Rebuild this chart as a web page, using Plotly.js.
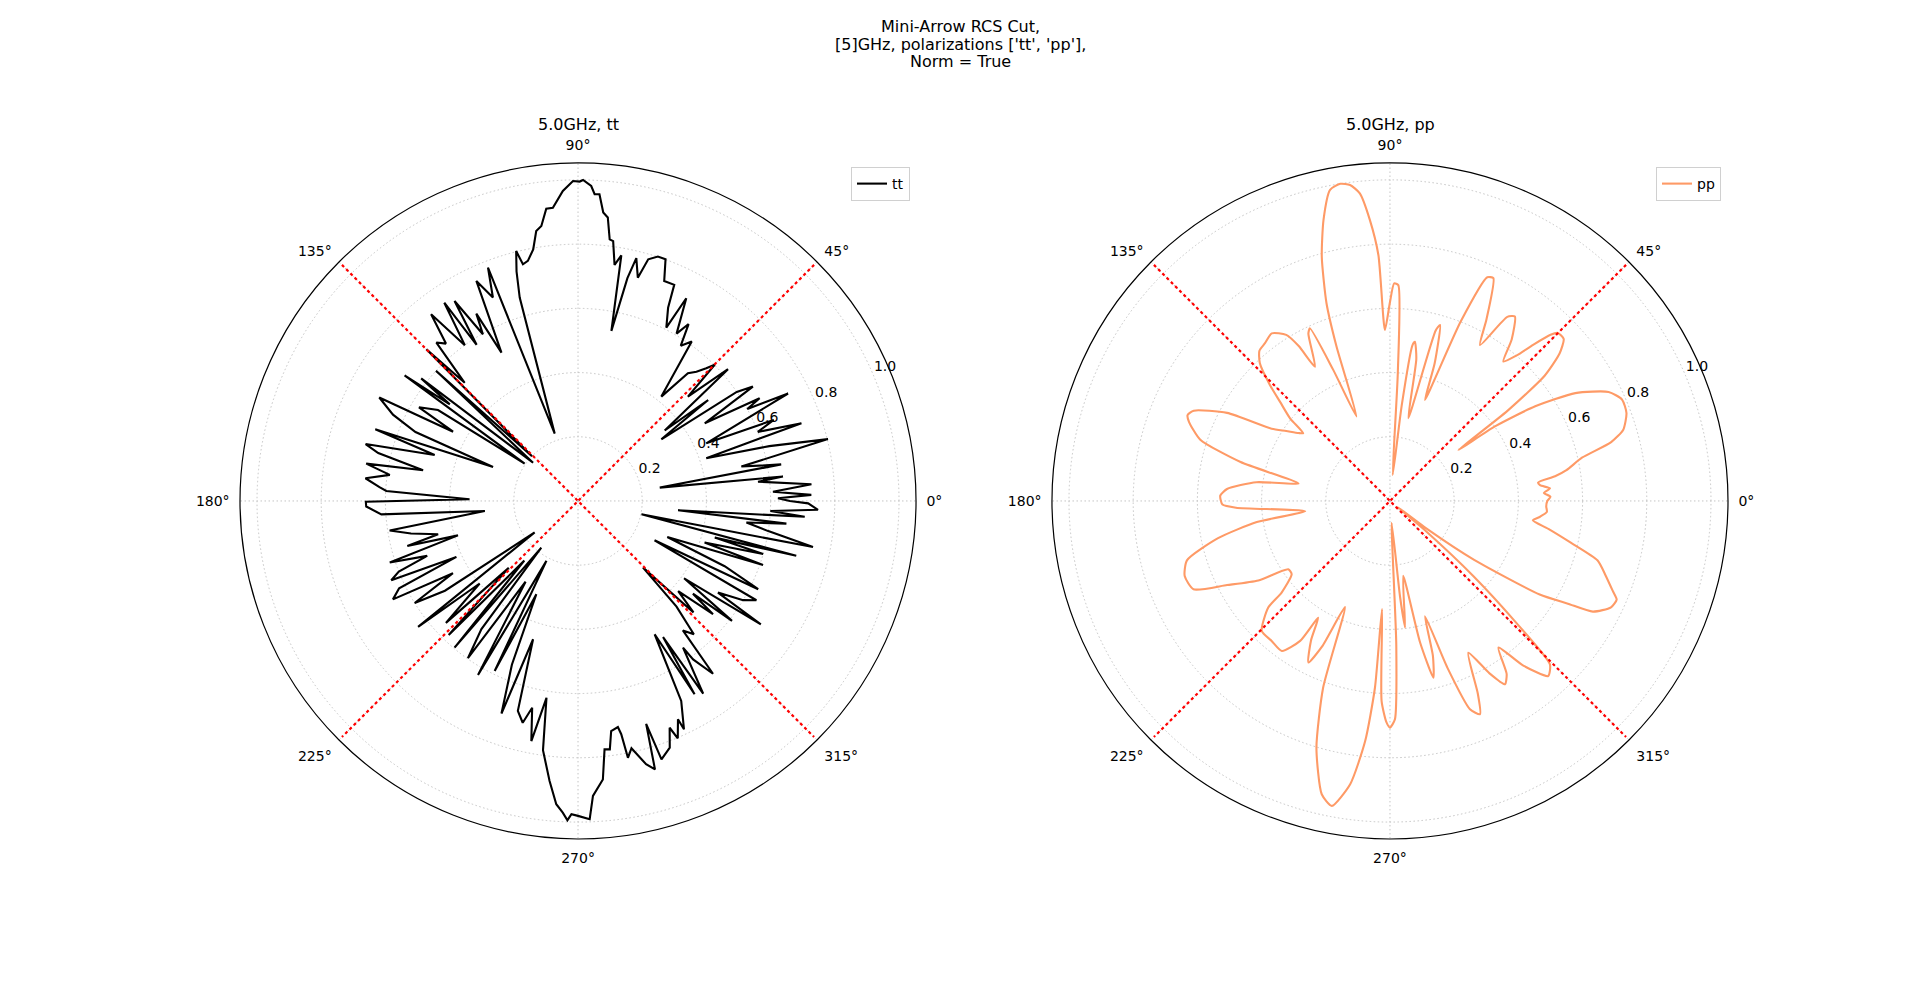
<!DOCTYPE html>
<html>
<head>
<meta charset="utf-8">
<script src="https://cdn.plot.ly/plotly-3.0.1.min.js"></script>
<style>
  body { margin: 0; background: white; }
  #chart { width: 1920px; height: 993px; }
</style>
</head>
<body>
<div id="chart"></div>
<script>
// normalised RCS, 5 GHz, tt polarisation (angle in degrees, value)
var ttTheta = [0, 0.8, 1.5, 2.7, 4.1, 6.1, 6.8, 9.3, 10.2, 11.9, 13.9, 16, 18.4, 19.2, 21, 22.5, 24.2, 27.1, 28.5, 29.5,
  31.5, 33.2, 34.5, 36.5, 37.8, 39.1, 41.3, 43.5, 44.9, 46, 47.5, 49.3, 51.4, 54.5, 56.5, 58, 59.5, 61.9, 63, 65,
  66, 68.6, 70.1, 71.9, 73.8, 75, 76.5, 77.5, 78.9, 80, 81.2, 82.3, 83.1, 84, 85, 86, 86.9, 87.6, 89.1, 89.7,
  90.9, 92.8, 94.9, 96.2, 97.6, 98.8, 100.1, 101.8, 103.1, 103.9, 105, 106, 109.1, 111.1, 112.7, 114.8, 117.3, 118.5, 119.7, 121.7,
  123, 124, 126, 128.2, 130, 131.8, 133.8, 135, 135.8, 137.5, 139.6, 142, 143, 144.1, 145, 147, 149.5, 151, 152.5, 155,
  157, 158.2, 160.5, 162.2, 165, 166.5, 168.8, 170, 172.1, 173.9, 176, 177, 179.1, 180.2, 181.5, 183.9, 186.1, 188.9, 191, 193.4,
  194.8, 196, 198.1, 200, 201.5, 203, 204.7, 206, 208, 210, 212, 214, 216, 218.2, 220, 222.7, 224, 226, 228, 229.9,
  231.8, 233, 235, 237, 240.1, 242.2, 243.9, 245.9, 248, 250.2, 252, 254, 256, 257.5, 259, 260.9, 262, 264.2, 265.9, 267.2,
  268.1, 268.8, 270, 272.1, 272.9, 275.1, 276.1, 277.3, 278.2, 280, 280.5, 281, 282.2, 284.5, 286, 287, 287.9, 290.4, 292, 292.8,
  294.6, 294.9, 297.3, 299.9, 301.1, 302, 303, 305.6, 306, 308, 309, 311, 313, 314.3, 316, 318, 320, 321.1, 322.1, 323.9,
  326, 326.8, 329, 330.9, 332.8, 333.9, 336, 338, 340.9, 341.8, 344, 345, 345.9, 348.1, 348.9, 351, 352.7, 353.8, 354.7, 356,
  357, 357.9, 359.4, 360];
var ttR = [0.66, 0.623, 0.727, 0.608, 0.729, 0.564, 0.643, 0.258, 0.643, 0.52, 0.802, 0.62, 0.421, 0.737, 0.6, 0.66, 0.438, 0.735, 0.6, 0.65,
  0.463, 0.651, 0.6, 0.323, 0.513, 0.348, 0.622, 0.472, 0.601, 0.575, 0.546, 0.525, 0.416, 0.61, 0.58, 0.65, 0.605, 0.716, 0.606, 0.664,
  0.737, 0.736, 0.801, 0.801, 0.784, 0.72, 0.778, 0.711, 0.54, 0.777, 0.744, 0.817, 0.821, 0.888, 0.902, 0.958, 0.957, 0.982, 1.0, 0.995,
  0.997, 0.967, 0.917, 0.916, 0.864, 0.851, 0.796, 0.764, 0.757, 0.802, 0.74, 0.659, 0.222, 0.779, 0.687, 0.755, 0.52, 0.664, 0.598, 0.732,
  0.58, 0.745, 0.6, 0.74, 0.64, 0.662, 0.51, 0.668, 0.2, 0.6, 0.184, 0.62, 0.5, 0.667, 0.203, 0.52, 0.575, 0.445, 0.698, 0.636,
  0.55, 0.285, 0.67, 0.469, 0.685, 0.64, 0.492, 0.67, 0.592, 0.666, 0.62, 0.598, 0.338, 0.661, 0.66, 0.614, 0.292, 0.594, 0.53, 0.448,
  0.55, 0.389, 0.617, 0.5, 0.6, 0.632, 0.417, 0.62, 0.653, 0.45, 0.6, 0.5, 0.167, 0.634, 0.4, 0.56, 0.3, 0.58, 0.25, 0.597,
  0.185, 0.5, 0.598, 0.3, 0.625, 0.211, 0.59, 0.318, 0.55, 0.704, 0.453, 0.68, 0.712, 0.66, 0.762, 0.621, 0.784, 0.877, 0.947, 0.972,
  0.995, 0.976, 0.981, 0.992, 0.92, 0.871, 0.778, 0.78, 0.724, 0.715, 0.739, 0.815, 0.788, 0.847, 0.87, 0.726, 0.846, 0.82, 0.762, 0.802,
  0.748, 0.784, 0.701, 0.479, 0.703, 0.5, 0.716, 0.562, 0.61, 0.683, 0.519, 0.55, 0.45, 0.29, 0.5, 0.42, 0.549, 0.46, 0.608, 0.409,
  0.687, 0.521, 0.6, 0.636, 0.268, 0.625, 0.5, 0.30, 0.61, 0.415, 0.6, 0.441, 0.701, 0.202, 0.746, 0.6, 0.529, 0.653, 0.313, 0.708,
  0.6, 0.748, 0.717, 0.66];

// normalised RCS, 5 GHz, pp polarisation
var ppTheta = [0, 1.5, 3, 4.5, 6, 7.1, 8.5, 9.9, 12.7, 14.9, 17, 20.4, 23.6, 26.5, 30.2, 33.1, 35.4, 36.7, 37.5, 39,
  41, 43, 45, 46, 47.5, 49, 50.9, 53, 55.9, 57.5, 60, 62, 65.1, 66.5, 68.5, 70.9, 72, 74.1, 75, 77.5,
  79.5, 81.1, 81.8, 83, 84, 86.5, 87.8, 88.9, 90, 91.7, 92.7, 94.1, 95.6, 97.2, 98.9, 100.9, 103.3, 105.6, 107.8, 109.1,
  111.6, 113.4, 114.9, 116, 119.2, 120.5, 122, 125.2, 128.4, 131, 133.4, 136, 138, 140.4, 142, 143.4, 146, 148.6, 151.6, 155.3,
  157, 158.5, 162.1, 165.4, 169.2, 172, 175.8, 178.2, 181.2, 182.5, 186.9, 189, 192.2, 196.3, 200.1, 204.2, 207.3, 211.1, 213.9, 216.7,
  220.2, 221.2, 225.4, 229.8, 234.2, 237.3, 238.4, 240.5, 243.2, 245, 247, 250.3, 253.4, 256.9, 259.2, 262, 264.1, 265.4, 265.8, 267.6,
  269.1, 270, 271.3, 272.5, 274.4, 276, 276.8, 280, 282, 283.8, 285.5, 286.9, 289, 291, 292.9, 294.5, 297.3, 300, 302.1, 304,
  306.5, 309, 312.1, 314.4, 316, 318, 320, 321.5, 323, 325, 328, 330, 331.4, 334.3, 336.5, 337.9, 341, 344, 347, 350,
  352.3, 354, 356, 358, 360];
var ppR = [0.49, 0.5, 0.48, 0.5, 0.47, 0.465, 0.52, 0.558, 0.613, 0.713, 0.76, 0.786, 0.789, 0.761, 0.668, 0.54, 0.401, 0.266, 0.46, 0.62,
  0.7, 0.74, 0.74, 0.72, 0.66, 0.6, 0.56, 0.63, 0.694, 0.68, 0.561, 0.64, 0.765, 0.76, 0.6, 0.333, 0.45, 0.57, 0.55, 0.264,
  0.45, 0.502, 0.49, 0.3, 0.081, 0.4, 0.673, 0.678, 0.62, 0.533, 0.767, 0.878, 0.963, 0.992, 1.0, 0.987, 0.9, 0.79, 0.647, 0.509,
  0.283, 0.445, 0.593, 0.58, 0.479, 0.56, 0.61, 0.639, 0.627, 0.62, 0.59, 0.52, 0.46, 0.404, 0.343, 0.355, 0.39, 0.432, 0.577, 0.673,
  0.685, 0.673, 0.621, 0.481, 0.29, 0.42, 0.509, 0.529, 0.522, 0.48, 0.266, 0.42, 0.548, 0.659, 0.681, 0.671, 0.571, 0.479, 0.382, 0.382,
  0.442, 0.504, 0.569, 0.571, 0.576, 0.518, 0.427, 0.5, 0.564, 0.5, 0.359, 0.618, 0.802, 0.938, 0.967, 0.891, 0.752, 0.583, 0.338, 0.624,
  0.69, 0.706, 0.68, 0.45, 0.068, 0.3, 0.397, 0.237, 0.45, 0.567, 0.5, 0.375, 0.55, 0.695, 0.721, 0.66, 0.532, 0.62, 0.674, 0.65,
  0.568, 0.66, 0.735, 0.712, 0.55, 0.35, 0.15, 0.03, 0.15, 0.32, 0.55, 0.64, 0.72, 0.764, 0.77, 0.75, 0.71, 0.673, 0.578, 0.501,
  0.449, 0.47, 0.49, 0.487, 0.49];

// red dotted guide lines through the centre
var diagR = [1.04, 0, 1.04];
var diagThetaA = [45, 45, 225];
var diagThetaB = [135, 135, 315];

var radialTicks = [0.2, 0.4, 0.6, 0.8, 1.0];
var radialLabels = ['0.2', '0.4', '0.6', '0.8', '1.0'];
var angleTicks = [0, 45, 90, 135, 180, 225, 270, 315];
var angleLabels = ['0°', '45°', '90°', '135°', '180°', '225°', '270°', '315°'];

var fontFamily = 'DejaVu Sans, sans-serif';

function guide(theta, sub) {
    return {
        type: 'scatterpolar',
        r: diagR,
        theta: theta,
        subplot: sub,
        mode: 'lines',
        line: {color: 'red', width: 2.2, dash: 'dot'},
        showlegend: false,
        hoverinfo: 'skip'
    };
}

// radial tick labels sit just past each ring, centred on the label line (like matplotlib)
function rlabels(sub) {
    return {
        type: 'scatterpolar',
        r: radialTicks.map(function (v) { return v + 0.043; }),
        theta: radialTicks.map(function () { return 23.5; }),
        text: radialLabels,
        subplot: sub,
        mode: 'text',
        textposition: 'middle center',
        textfont: {size: 14, color: 'black', family: fontFamily},
        cliponaxis: false,
        showlegend: false,
        hoverinfo: 'skip'
    };
}

var data = [
    rlabels('polar'),
    {
        type: 'scatterpolar',
        r: ttR,
        theta: ttTheta,
        subplot: 'polar',
        mode: 'lines',
        name: 'tt',
        line: {color: 'black', width: 2.1},
        legend: 'legend'
    },
    guide(diagThetaA, 'polar'),
    guide(diagThetaB, 'polar'),
    rlabels('polar2'),
    {
        type: 'scatterpolar',
        r: ppR,
        theta: ppTheta,
        subplot: 'polar2',
        mode: 'lines',
        name: 'pp',
        line: {color: '#fe9a66', width: 2.1, shape: 'spline', smoothing: 0.6},
        legend: 'legend2'
    },
    guide(diagThetaA, 'polar2'),
    guide(diagThetaB, 'polar2')
];

function polarAxes(xdom) {
    return {
        domain: {x: xdom, y: [0.1551, 0.8359]},
        bgcolor: 'white',
        radialaxis: {
            range: [0, 1.053],
            tickvals: radialTicks,
            angle: 22.5,
            showticklabels: false,
            showline: false,
            ticks: '',
            gridcolor: '#c4c4c4',
            griddash: '1.5px,2.5px',
            gridwidth: 1
        },
        angularaxis: {
            tickvals: angleTicks,
            ticktext: angleLabels,
            rotation: 0,
            direction: 'counterclockwise',
            showline: true,
            linecolor: 'black',
            linewidth: 1.2,
            gridcolor: '#c4c4c4',
            griddash: '1.5px,2.5px',
            gridwidth: 1,
            ticks: 'outside',
            ticklen: 7,
            tickcolor: 'rgba(0,0,0,0)',
            tickfont: {size: 14, color: 'black', family: fontFamily}
        }
    };
}

function legendBox(xr) {
    return {
        x: xr,
        y: 1 - 167 / 993,
        xanchor: 'right',
        yanchor: 'top',
        bgcolor: 'rgba(255,255,255,0.8)',
        bordercolor: '#d0d0d0',
        borderwidth: 1,
        font: {size: 14, color: 'black', family: fontFamily}
    };
}

function label(text, x, y) {
    return {
        text: text,
        xref: 'paper', yref: 'paper',
        x: x / 1920, y: 1 - y / 993,
        xanchor: 'center', yanchor: 'middle',
        showarrow: false,
        font: {size: 16, color: 'black', family: fontFamily}
    };
}

var layout = {
    width: 1920,
    height: 993,
    margin: {l: 0, r: 0, t: 0, b: 0},
    paper_bgcolor: 'white',
    font: {family: fontFamily, color: 'black'},
    polar: polarAxes([0.125, 0.4771]),
    polar2: polarAxes([0.5479, 0.9]),
    legend: legendBox(910 / 1920),
    legend2: legendBox(1721 / 1920),
    annotations: [
        label('Mini-Arrow RCS Cut,', 960, 26.5),
        label("[5]GHz, polarizations ['tt', 'pp'],", 960, 44),
        label('Norm = True', 960, 61.5),
        label('5.0GHz, tt', 578, 124),
        label('5.0GHz, pp', 1390, 124)
    ]
};

Plotly.newPlot('chart', data, layout, {displayModeBar: false});
</script>
</body>
</html>
